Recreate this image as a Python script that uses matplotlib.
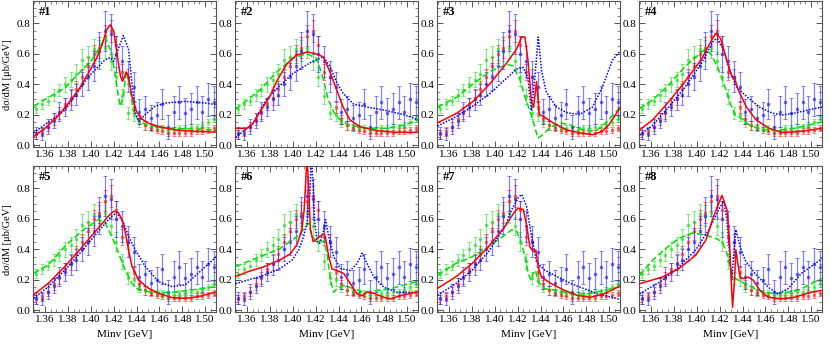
import numpy as np
import matplotlib
matplotlib.use('Agg')
import matplotlib.pyplot as plt
from matplotlib.ticker import MultipleLocator, FormatStrFormatter

plt.rcParams['font.family'] = ['Liberation Serif', 'DejaVu Serif']
plt.rcParams['font.size'] = 8

# measured data (same in every panel)
m_bins = [1.3525 + 0.005 * i for i in range(32)]
red_data = [0.07, 0.09, 0.12, 0.17, 0.21, 0.27, 0.31, 0.37, 0.45, 0.52, 0.60, 0.64, 0.72, 0.75, 0.66, 0.48,
            0.45, 0.25, 0.17, 0.13, 0.11, 0.10, 0.09, 0.08, 0.08, 0.08, 0.08, 0.08, 0.09, 0.09, 0.10, 0.11]
red_err = [0.03, 0.03, 0.03, 0.04, 0.04, 0.04, 0.05, 0.05, 0.05, 0.06, 0.06, 0.07, 0.07, 0.07, 0.06, 0.05,
           0.05, 0.04, 0.03, 0.03, 0.02, 0.02, 0.02, 0.02, 0.02, 0.02, 0.02, 0.02, 0.02, 0.02, 0.02, 0.02]
green_data = [0.24, 0.27, 0.29, 0.33, 0.36, 0.40, 0.43, 0.47, 0.56, 0.58, 0.63, 0.62, 0.64, 0.55, 0.45, 0.32,
              0.21, 0.20, 0.15, 0.13, 0.12, 0.11, 0.11, 0.10, 0.10, 0.11, 0.11, 0.12, 0.12, 0.13, 0.15, 0.17]
green_err = [0.03, 0.03, 0.03, 0.04, 0.04, 0.05, 0.05, 0.06, 0.07, 0.07, 0.07, 0.07, 0.07, 0.06, 0.06, 0.05,
             0.04, 0.04, 0.03, 0.03, 0.02, 0.02, 0.02, 0.02, 0.02, 0.02, 0.02, 0.02, 0.02, 0.02, 0.02, 0.02]
blue_data = [0.08, 0.07, 0.12, 0.16, 0.22, 0.25, 0.30, 0.33, 0.40, 0.45, 0.52, 0.62, 0.75, 0.73, 0.60, 0.55,
             0.45, 0.38, 0.22, 0.24, 0.18, 0.20, 0.27, 0.12, 0.22, 0.28, 0.21, 0.24, 0.28, 0.22, 0.30, 0.28]
blue_err = [0.04, 0.04, 0.05, 0.05, 0.06, 0.06, 0.07, 0.07, 0.08, 0.09, 0.10, 0.12, 0.13, 0.13, 0.12, 0.10,
            0.10, 0.10, 0.08, 0.08, 0.08, 0.08, 0.10, 0.08, 0.10, 0.11, 0.10, 0.10, 0.11, 0.10, 0.11, 0.11]

# fit curves, (M, dsigma/dM)
red_1 = [(1.35, 0.055), (1.36, 0.11), (1.37, 0.18), (1.38, 0.27), (1.39, 0.37), (1.40, 0.50), (1.405, 0.57),
         (1.41, 0.66), (1.414, 0.76), (1.417, 0.79), (1.42, 0.75), (1.423, 0.60), (1.426, 0.45), (1.428, 0.42),
         (1.431, 0.48), (1.433, 0.45), (1.436, 0.32), (1.44, 0.22), (1.445, 0.17), (1.45, 0.145), (1.46, 0.12),
         (1.47, 0.105), (1.48, 0.095), (1.49, 0.09), (1.51, 0.085)]
green_1 = [(1.35, 0.255), (1.36, 0.30), (1.3775, 0.375), (1.39, 0.475), (1.401, 0.56), (1.407, 0.63),
           (1.4125, 0.71), (1.418, 0.61), (1.4227, 0.39), (1.4256, 0.255), (1.4286, 0.32), (1.431, 0.49),
           (1.434, 0.39), (1.437, 0.23), (1.442, 0.155), (1.45, 0.13), (1.47, 0.11), (1.51, 0.10)]
blue_1 = [(1.35, 0.08), (1.3775, 0.23), (1.398, 0.45), (1.4125, 0.56), (1.417, 0.575), (1.42, 0.55),
          (1.423, 0.61), (1.4285, 0.72), (1.433, 0.63), (1.436, 0.41), (1.439, 0.21), (1.442, 0.155),
          (1.4475, 0.20), (1.456, 0.254), (1.465, 0.276), (1.4825, 0.287), (1.50, 0.276), (1.51, 0.265)]

red_2 = [(1.35, 0.11), (1.36, 0.11), (1.365, 0.14), (1.374, 0.25), (1.38, 0.32), (1.386, 0.42), (1.3945, 0.53),
         (1.403, 0.59), (1.412, 0.61), (1.418, 0.605), (1.4268, 0.58), (1.4326, 0.48), (1.4385, 0.36),
         (1.444, 0.25), (1.45, 0.165), (1.459, 0.12), (1.4737, 0.094), (1.491, 0.083), (1.51, 0.083)]
green_2 = [(1.35, 0.235), (1.371, 0.36), (1.386, 0.48), (1.40, 0.57), (1.412, 0.60), (1.421, 0.57),
           (1.4268, 0.43), (1.431, 0.30), (1.4356, 0.22), (1.4414, 0.165), (1.45, 0.13), (1.465, 0.11),
           (1.482, 0.11), (1.497, 0.13), (1.51, 0.165)]
blue_2 = [(1.35, 0.05), (1.365, 0.14), (1.377, 0.30), (1.386, 0.37), (1.40, 0.47), (1.415, 0.54),
          (1.4268, 0.58), (1.4326, 0.515), (1.4385, 0.41), (1.444, 0.34), (1.453, 0.27), (1.465, 0.25),
          (1.4795, 0.23), (1.497, 0.20), (1.51, 0.165)]

red_3 = [(1.35, 0.146), (1.367, 0.21), (1.3816, 0.29), (1.396, 0.405), (1.4105, 0.54), (1.419, 0.63),
         (1.4235, 0.71), (1.4264, 0.71), (1.429, 0.56), (1.432, 0.29), (1.434, 0.25), (1.4365, 0.417),
         (1.439, 0.20), (1.442, 0.19), (1.451, 0.146), (1.4625, 0.10), (1.474, 0.08), (1.4855, 0.068),
         (1.494, 0.09), (1.50, 0.135), (1.51, 0.25)]
green_3 = [(1.35, 0.25), (1.367, 0.315), (1.3816, 0.405), (1.396, 0.485), (1.4105, 0.53), (1.416, 0.52),
           (1.422, 0.43), (1.4264, 0.315), (1.4307, 0.225), (1.4378, 0.045), (1.442, 0.068), (1.448, 0.113),
           (1.4567, 0.146), (1.465, 0.135), (1.477, 0.10), (1.488, 0.09), (1.497, 0.146), (1.51, 0.25)]
blue_3 = [(1.35, 0.124), (1.367, 0.19), (1.3816, 0.26), (1.396, 0.34), (1.4105, 0.44), (1.419, 0.50),
          (1.425, 0.51), (1.429, 0.44), (1.432, 0.225), (1.435, 0.44), (1.438, 0.71), (1.441, 0.485),
          (1.445, 0.35), (1.4538, 0.25), (1.4625, 0.214), (1.474, 0.20), (1.4855, 0.25), (1.494, 0.38),
          (1.503, 0.56), (1.51, 0.62)]

red_4 = [(1.35, 0.10), (1.3614, 0.165), (1.3756, 0.285), (1.3897, 0.417), (1.4038, 0.56), (1.4123, 0.68),
         (1.4166, 0.735), (1.4208, 0.70), (1.4265, 0.55), (1.4307, 0.45), (1.4335, 0.43), (1.4364, 0.36),
         (1.4434, 0.25), (1.4519, 0.165), (1.4632, 0.11), (1.4745, 0.083), (1.4887, 0.088), (1.51, 0.11)]
green_4 = [(1.35, 0.24), (1.3614, 0.296), (1.3756, 0.395), (1.3897, 0.515), (1.401, 0.59), (1.4066, 0.625),
           (1.4123, 0.60), (1.418, 0.515), (1.4236, 0.405), (1.4293, 0.274), (1.4335, 0.197), (1.4392, 0.175),
           (1.4462, 0.13), (1.4575, 0.10), (1.469, 0.094), (1.4858, 0.11), (1.51, 0.153)]
blue_4 = [(1.35, 0.066), (1.3614, 0.13), (1.3756, 0.25), (1.3897, 0.38), (1.4038, 0.535), (1.415, 0.69),
          (1.418, 0.70), (1.4236, 0.625), (1.4293, 0.48), (1.435, 0.38), (1.4434, 0.32), (1.4547, 0.25),
          (1.466, 0.21), (1.4745, 0.197), (1.4858, 0.21), (1.497, 0.23), (1.51, 0.25)]

red_5 = [(1.35, 0.10), (1.363, 0.176), (1.3775, 0.287), (1.392, 0.41), (1.4067, 0.54), (1.4154, 0.617),
         (1.42, 0.65), (1.4243, 0.64), (1.4286, 0.573), (1.433, 0.397), (1.436, 0.287), (1.4417, 0.198),
         (1.4505, 0.143), (1.4592, 0.11), (1.471, 0.082), (1.4825, 0.077), (1.494, 0.088), (1.51, 0.12)]
green_5 = [(1.35, 0.242), (1.363, 0.297), (1.3775, 0.42), (1.392, 0.518), (1.4067, 0.595), (1.4125, 0.573),
           (1.4183, 0.485), (1.4243, 0.375), (1.43, 0.264), (1.436, 0.176), (1.4417, 0.132), (1.4534, 0.117),
           (1.471, 0.115), (1.4883, 0.132), (1.51, 0.154)]
blue_5 = [(1.35, 0.077), (1.363, 0.154), (1.3775, 0.264), (1.392, 0.386), (1.4067, 0.518), (1.4183, 0.617),
          (1.4228, 0.64), (1.4286, 0.573), (1.433, 0.485), (1.4388, 0.397), (1.4476, 0.287), (1.4592, 0.187),
          (1.471, 0.154), (1.4825, 0.165), (1.494, 0.242), (1.51, 0.353)]

red_6 = [(1.35, 0.22), (1.36, 0.25), (1.3746, 0.284), (1.389, 0.33), (1.3979, 0.37), (1.4037, 0.43),
         (1.408, 0.53), (1.41, 0.66), (1.4117, 0.90), (1.4125, 1.0), (1.414, 0.80), (1.4154, 0.53),
         (1.4178, 0.45), (1.42, 0.46), (1.4227, 0.48), (1.4271, 0.50), (1.4285, 0.48), (1.4315, 0.35),
         (1.4343, 0.27), (1.4387, 0.26), (1.4446, 0.24), (1.4504, 0.173), (1.4562, 0.106), (1.4606, 0.095),
         (1.465, 0.117), (1.4708, 0.11), (1.4796, 0.084), (1.4854, 0.073), (1.4941, 0.095), (1.51, 0.12)]
green_6 = [(1.35, 0.284), (1.36, 0.317), (1.3746, 0.36), (1.389, 0.405), (1.4037, 0.483), (1.4095, 0.528),
           (1.4139, 0.572), (1.4168, 0.494), (1.42, 0.45), (1.424, 0.455), (1.4271, 0.45), (1.43, 0.373),
           (1.433, 0.195), (1.4358, 0.117), (1.4387, 0.14), (1.4446, 0.162), (1.4533, 0.14), (1.462, 0.117),
           (1.4737, 0.129), (1.4854, 0.14), (1.51, 0.19)]
blue_6 = [(1.35, 0.173), (1.36, 0.195), (1.3746, 0.228), (1.389, 0.273), (1.3994, 0.328), (1.4052, 0.395),
          (1.4095, 0.483), (1.4125, 0.572), (1.4149, 0.75), (1.4163, 1.0), (1.4178, 0.83), (1.419, 0.59),
          (1.4213, 0.45), (1.4236, 0.44), (1.4265, 0.506), (1.4286, 0.595), (1.4315, 0.483), (1.4358, 0.35),
          (1.4416, 0.273), (1.4504, 0.26), (1.4562, 0.306), (1.4606, 0.373), (1.465, 0.306), (1.4708, 0.217),
          (1.4796, 0.15), (1.4912, 0.117), (1.51, 0.117)]

red_7 = [(1.35, 0.143), (1.3658, 0.217), (1.3802, 0.306), (1.3946, 0.417), (1.409, 0.55), (1.4177, 0.65),
         (1.4206, 0.67), (1.425, 0.66), (1.4278, 0.56), (1.4307, 0.417), (1.4336, 0.384), (1.4359, 0.395),
         (1.4379, 0.284), (1.4408, 0.217), (1.4495, 0.173), (1.461, 0.129), (1.4726, 0.095), (1.4841, 0.084),
         (1.4956, 0.106), (1.51, 0.16)]
green_7 = [(1.35, 0.23), (1.3658, 0.306), (1.3802, 0.35), (1.3946, 0.417), (1.409, 0.494), (1.4148, 0.528),
           (1.4192, 0.517), (1.4235, 0.44), (1.4264, 0.35), (1.4293, 0.24), (1.4316, 0.195), (1.4336, 0.24),
           (1.4356, 0.262), (1.4379, 0.184), (1.4437, 0.14), (1.4552, 0.129), (1.4668, 0.106),
           (1.4812, 0.106), (1.4956, 0.129), (1.51, 0.155)]
blue_7 = [(1.35, 0.097), (1.3658, 0.173), (1.3802, 0.262), (1.3946, 0.384), (1.409, 0.55), (1.4148, 0.66),
          (1.4206, 0.74), (1.4235, 0.76), (1.4278, 0.683), (1.4322, 0.483), (1.4365, 0.317), (1.4437, 0.262),
          (1.4552, 0.217), (1.4668, 0.173), (1.4783, 0.14), (1.4899, 0.106), (1.51, 0.07)]

red_8 = [(1.35, 0.173), (1.37, 0.217), (1.3845, 0.273), (1.399, 0.36), (1.408, 0.46), (1.415, 0.62),
         (1.422, 0.754), (1.4264, 0.66), (1.4284, 0.483), (1.4301, 0.195), (1.4313, 0.018), (1.433, 0.195),
         (1.4342, 0.395), (1.4359, 0.306), (1.4379, 0.217), (1.4408, 0.206), (1.4451, 0.217), (1.4495, 0.195),
         (1.4552, 0.129), (1.4625, 0.084), (1.474, 0.073), (1.4855, 0.084), (1.50, 0.117), (1.51, 0.13)]
green_8 = [(1.35, 0.228), (1.3614, 0.328), (1.373, 0.405), (1.3845, 0.472), (1.396, 0.506), (1.4076, 0.494),
           (1.4163, 0.472), (1.422, 0.45), (1.4264, 0.372), (1.4293, 0.284), (1.4321, 0.217), (1.4365, 0.195),
           (1.4423, 0.173), (1.4509, 0.14), (1.4596, 0.117), (1.4711, 0.106), (1.4884, 0.129), (1.51, 0.21)]
blue_8 = [(1.35, 0.106), (1.37, 0.195), (1.3845, 0.284), (1.399, 0.395), (1.4105, 0.528), (1.4192, 0.66),
          (1.4235, 0.716), (1.4264, 0.594), (1.4293, 0.306), (1.4307, 0.195), (1.4324, 0.372), (1.4342, 0.528),
          (1.4379, 0.417), (1.4423, 0.328), (1.4509, 0.24), (1.4625, 0.15), (1.4711, 0.106), (1.4798, 0.14),
          (1.4913, 0.24), (1.51, 0.34)]

panel_labels = ['#1', '#2', '#3', '#4', '#5', '#6', '#7', '#8']
curves = [(red_1, green_1, blue_1), (red_2, green_2, blue_2), (red_3, green_3, blue_3), (red_4, green_4, blue_4),
          (red_5, green_5, blue_5), (red_6, green_6, blue_6), (red_7, green_7, blue_7), (red_8, green_8, blue_8)]

W, H = 830, 344
fig = plt.figure(figsize=(W / 100, H / 100), dpi=100)

lefts = [33, 235, 437, 639]
bottoms = [147.3, 312.3]
aw, ah = 183, 146

frame_col = '#555555'

for k in range(8):
    row, col = divmod(k, 4)
    ax = fig.add_axes([lefts[col] / W, (H - bottoms[row]) / H, aw / W, ah / H])

    for yd, ye, c in [(green_data, green_err, '#22dd22'), (red_data, red_err, '#ff2020'),
                      (blue_data, blue_err, '#2020ff')]:
        ax.errorbar(m_bins, yd, yerr=ye, fmt='s', ms=1.4, color=c, ecolor=c, elinewidth=0.9,
                    capsize=1.3, capthick=0.7, alpha=0.55, zorder=2)

    rc, gc, bc = curves[k]
    ax.plot([p[0] for p in gc], [p[1] for p in gc], color='#00e000', lw=1.1, ls=(0, (4, 2)), zorder=3)
    ax.plot([p[0] for p in bc], [p[1] for p in bc], color='#0000ff', lw=1.1, ls=(0, (1, 1)), zorder=4)
    ax.plot([p[0] for p in rc], [p[1] for p in rc], color='#ff0000', lw=1.1, zorder=5)

    ax.set_xlim(1.3495, 1.5095)
    ax.set_ylim(-0.015, 0.945)
    ax.xaxis.set_major_locator(MultipleLocator(0.02))
    ax.xaxis.set_minor_locator(MultipleLocator(0.005))
    ax.yaxis.set_major_locator(MultipleLocator(0.2))
    ax.yaxis.set_minor_locator(MultipleLocator(0.05))
    ax.xaxis.set_major_formatter(FormatStrFormatter('%.2f'))
    ax.yaxis.set_major_formatter(FormatStrFormatter('%.1f'))
    ax.tick_params(which='both', direction='in', top=True, right=True, color=frame_col, labelsize=8, pad=2)
    ax.tick_params(which='major', length=4, width=0.7)
    ax.tick_params(which='minor', length=2, width=0.5)
    for s in ax.spines.values():
        s.set_color(frame_col)
        s.set_linewidth(0.8)

    ax.text(0.03, 0.97, panel_labels[k], transform=ax.transAxes, ha='left', va='top',
            fontsize=9, fontweight='bold')

    if col == 0:
        ax.set_ylabel('dσ/dM [μb/GeV]', fontsize=7.5, labelpad=3)
    if row == 1:
        ax.set_xlabel('Minv [GeV]', fontsize=8, labelpad=4)

fig.savefig('out.png', dpi=100)
